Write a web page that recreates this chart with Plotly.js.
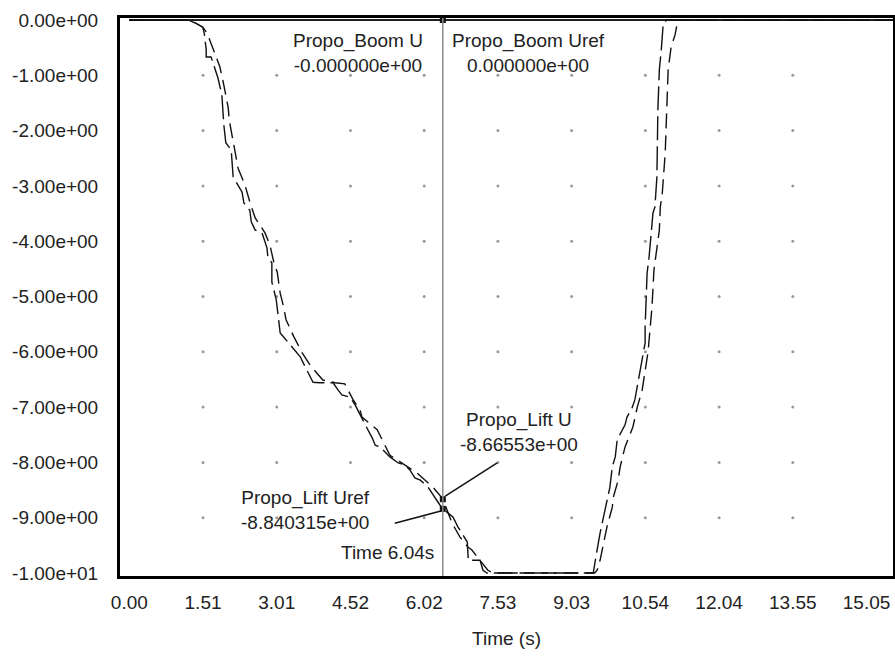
<!DOCTYPE html>
<html><head><meta charset="utf-8">
<script src="https://cdn.plot.ly/plotly-3.0.1.min.js"></script>
<style>html,body{margin:0;padding:0;background:#fff;}#chart{width:895px;height:658px;}</style>
</head><body><div id="chart"></div>
<script>
// ---- data ----
const liftUrefTime = [0,1.20,1.34,1.50,1.53,1.57,1.57,1.67,1.81,1.89,1.93,1.97,2.08,2.12,2.30,2.34,2.46,2.49,2.57,2.67,2.71,2.81,2.83,2.91,2.91,3.00,3.02,3.08,3.12,3.42,3.49,3.55,3.63,3.75,3.89,4.16,4.26,4.34,4.51,4.61,4.87,4.96,5.02,5.12,5.22,5.32,5.49,5.63,5.73,5.83,5.94,6.10,6.34,6.40,6.61,6.71,6.79,6.90,6.92,7.16,7.22,7.30,9.47,9.51,9.55,9.61,9.71,9.81,9.86,9.92,9.96,10.12,10.16,10.26,10.32,10.47,10.53,10.53,10.57,10.57,10.61,10.69,10.73,10.77,10.79,10.82,10.86,10.90,10.98,15.6];
const liftUrefVal  = [0,0,-0.05,-0.13,-0.24,-0.54,-0.67,-0.67,-1.05,-1.36,-1.90,-2.22,-2.35,-2.84,-3.11,-3.31,-3.44,-3.65,-3.80,-3.83,-3.85,-4.12,-4.30,-4.39,-4.74,-5.06,-5.24,-5.66,-5.70,-6.00,-6.09,-6.20,-6.33,-6.55,-6.56,-6.56,-6.69,-6.78,-6.82,-6.96,-7.41,-7.56,-7.69,-7.72,-7.81,-7.90,-8.01,-8.05,-8.14,-8.28,-8.32,-8.45,-8.77,-8.84,-8.99,-9.17,-9.28,-9.44,-9.77,-9.77,-9.95,-10,-10,-9.82,-9.58,-9.28,-8.86,-8.45,-8.08,-7.90,-7.59,-7.32,-7.18,-7.02,-6.87,-6.15,-5.84,-5.55,-4.76,-4.58,-4.29,-3.49,-3.38,-2.84,-1.63,-0.90,-0.54,-0.05,0,0];
const liftUTime = [0,1.20,1.34,1.50,1.59,1.71,1.85,1.93,1.97,2.02,2.04,2.12,2.16,2.22,2.36,2.46,2.57,2.77,2.87,2.95,3.02,3.08,3.14,3.20,3.36,3.53,3.69,3.95,4.20,4.40,4.57,4.71,4.75,5.06,5.32,5.87,6.20,6.40,6.59,6.75,6.91,6.99,7.32,7.43,9.50,9.55,9.61,9.67,9.75,9.86,9.88,9.98,10.02,10.12,10.28,10.37,10.47,10.59,10.67,10.71,10.77,10.82,10.84,10.88,10.94,10.98,11.00,11.06,11.14,11.20,15.6];
const liftUVal  = [0,0,-0.05,-0.13,-0.24,-0.51,-0.85,-1.18,-1.39,-1.59,-1.81,-2.21,-2.44,-2.68,-2.98,-3.29,-3.58,-3.85,-4.07,-4.38,-4.56,-4.94,-5.15,-5.42,-5.73,-6.02,-6.24,-6.51,-6.56,-6.58,-6.87,-7.05,-7.18,-7.41,-7.87,-8.19,-8.45,-8.66,-9.10,-9.35,-9.53,-9.58,-9.95,-10,-10,-9.95,-9.77,-9.53,-9.17,-8.81,-8.63,-8.32,-8.08,-7.72,-7.36,-7.00,-6.69,-6.00,-5.19,-4.52,-4.10,-3.80,-3.38,-3.13,-2.41,-1.50,-0.90,-0.49,-0.27,0,0];
const boomTime = [0,15.6];
const boomUVal = [0,0];
const boomUrefVal = [0,0];

const cursorTime = 6.40;
const cursorVals = [-8.66553,-8.840315,0];

const xTickVals = [0,1.505,3.01,4.515,6.02,7.525,9.03,10.535,12.04,13.545,15.05];
const xTickText = ['0.00','1.51','3.01','4.52','6.02','7.53','9.03','10.54','12.04','13.55','15.05'];
const yTickVals = [0,-1,-2,-3,-4,-5,-6,-7,-8,-9,-10];
const yTickText = ['0.00e+00','-1.00e+00','-2.00e+00','-3.00e+00','-4.00e+00','-5.00e+00','-6.00e+00','-7.00e+00','-8.00e+00','-9.00e+00','-1.00e+01'];

// ---- grid dots built from the tick arrays ----
const gx = [], gy = [];
xTickVals.slice(1,10).forEach(x => yTickVals.slice(1,10).forEach(y => { gx.push(x); gy.push(y); }));

const FONT = 'Liberation Sans, Arial, sans-serif';
const traces = [
  {x: gx, y: gy, mode:'markers', marker:{size:3, color:'#9a9a9a'}, hoverinfo:'skip', showlegend:false},
  {x: boomTime, y: boomUVal, mode:'lines', line:{color:'#111', width:1.3}, name:'Propo_Boom U'},
  {x: boomTime, y: boomUrefVal, mode:'lines', line:{color:'#111', width:1.3}, name:'Propo_Boom Uref'},
  {x: liftUrefTime, y: liftUrefVal, mode:'lines', line:{color:'#111', width:1.4, dash:'24px,6px'}, name:'Propo_Lift Uref'},
  {x: liftUTime, y: liftUVal, mode:'lines', line:{color:'#111', width:1.4, dash:'15px,7px'}, name:'Propo_Lift U'},
  {x: cursorVals.map(()=>cursorTime), y: cursorVals, mode:'markers', marker:{symbol:'square', size:6, color:'#111'}, showlegend:false}
];

const layout = {
  width: 895, height: 658,
  margin: {l:120, r:2, t:18, b:82},
  paper_bgcolor:'#fff', plot_bgcolor:'#fff',
  showlegend:false,
  font:{family:FONT, size:19, color:'#222'},
  xaxis:{range:[-0.19,15.59], tickvals:xTickVals, ticktext:xTickText, showgrid:false, zeroline:false,
         showline:true, mirror:true, linewidth:3, linecolor:'#000', ticks:'', ticklabelstandoff:7,
         tickfont:{family:FONT, size:19, color:'#222'},
         title:{text:'Time (s)', font:{family:FONT, size:19, color:'#222'}, standoff:20}},
  yaxis:{range:[-10.054,0.036], tickvals:yTickVals, ticktext:yTickText, showgrid:false, zeroline:false,
         showline:true, mirror:true, linewidth:3, linecolor:'#000', ticks:'', ticklabelstandoff:15,
         tickfont:{family:FONT, size:19, color:'#222'}},
  shapes:[
    {type:'line', xref:'x', yref:'paper', x0:cursorTime, x1:cursorTime, y0:0, y1:1, line:{color:'#8a8a8a', width:1.5}},
    {type:'line', xref:'x', yref:'y', x0:7.51, y0:-8.01, x1:6.45, y1:-8.61, line:{color:'#111', width:1.5}},
    {type:'line', xref:'x', yref:'y', x0:5.42, y0:-9.10, x1:6.36, y1:-8.88, line:{color:'#111', width:1.5}}
  ],
  annotations:[
    {x:4.67, y:-0.60, xref:'x', yref:'y', text:'Propo_Boom U<br>-0.000000e+00', showarrow:false, align:'center', xanchor:'center', yanchor:'middle'},
    {x:8.14, y:-0.60, xref:'x', yref:'y', text:'Propo_Boom Uref<br>0.000000e+00', showarrow:false, align:'center', xanchor:'center', yanchor:'middle'},
    {x:7.96, y:-7.45, xref:'x', yref:'y', text:'Propo_Lift U<br>-8.66553e+00', showarrow:false, align:'center', xanchor:'center', yanchor:'middle'},
    {x:3.59, y:-8.86, xref:'x', yref:'y', text:'Propo_Lift Uref<br>-8.840315e+00', showarrow:false, align:'center', xanchor:'center', yanchor:'middle'},
    {x:5.28, y:-9.62, xref:'x', yref:'y', text:'Time 6.04s', showarrow:false, align:'center', xanchor:'center', yanchor:'middle'}
  ]
};

Plotly.newPlot('chart', traces, layout, {staticPlot:true, displayModeBar:false});
</script>
</body></html>
